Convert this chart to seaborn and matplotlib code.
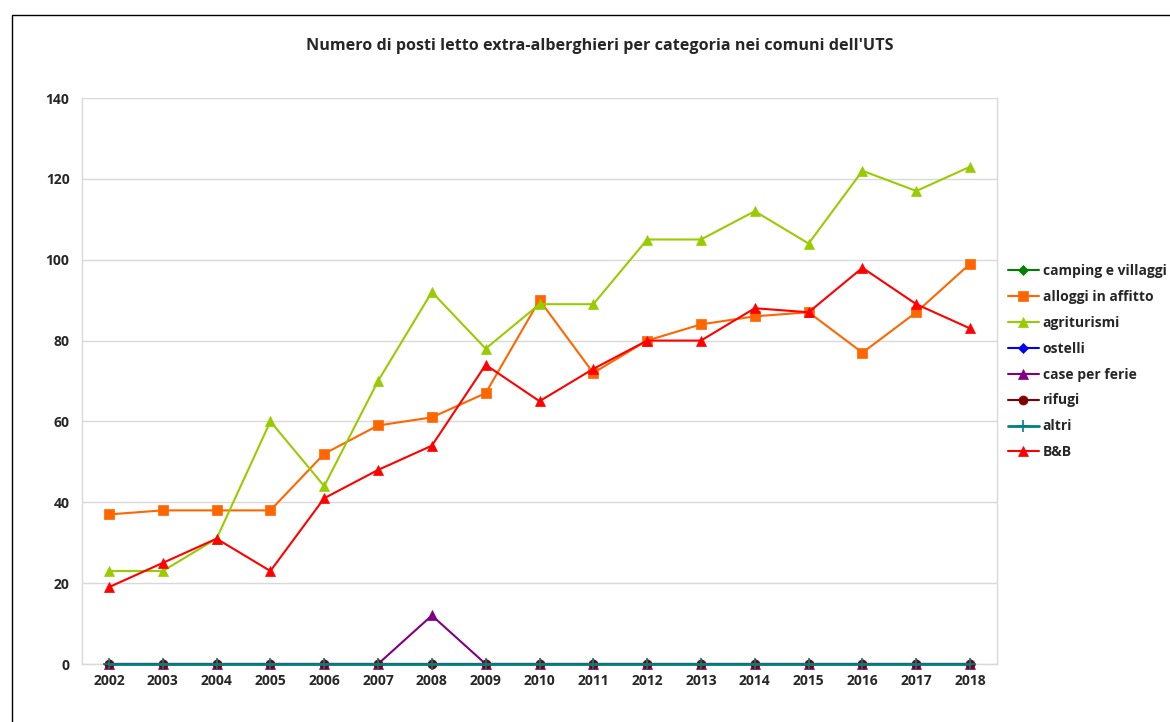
import matplotlib
matplotlib.use('Agg')
import matplotlib.pyplot as plt
from matplotlib.patches import Rectangle
import seaborn as sns
import pandas as pd

years = [str(y) for y in range(2002, 2019)]

camping = [0] * 17
alloggi = [37, 38, 38, 38, 52, 59, 61, 67, 90, 72, 80, 84, 86, 87, 77, 87, 99]
agriturismi = [23, 23, 31, 60, 44, 70, 92, 78, 89, 89, 105, 105, 112, 104, 122, 117, 123]
ostelli = [0] * 17
case_ferie = [0, 0, 0, 0, 0, 0, 12, 0, 0, 0, 0, 0, 0, 0, 0, 0, 0]
rifugi = [0] * 17
altri = [0] * 17
bb = [19, 25, 31, 23, 41, 48, 54, 74, 65, 73, 80, 80, 88, 87, 98, 89, 83]

series = {
    'camping e villaggi': camping,
    'alloggi in affitto': alloggi,
    'agriturismi': agriturismi,
    'ostelli': ostelli,
    'case per ferie': case_ferie,
    'rifugi': rifugi,
    'altri': altri,
    'B&B': bb,
}
colors = {
    'camping e villaggi': '#008000',
    'alloggi in affitto': '#FF6600',
    'agriturismi': '#99CC00',
    'ostelli': '#0000FF',
    'case per ferie': '#800080',
    'rifugi': '#800000',
    'altri': '#008080',
    'B&B': '#FF0000',
}
markers = {
    'camping e villaggi': 'D',
    'alloggi in affitto': 's',
    'agriturismi': '^',
    'ostelli': 'D',
    'case per ferie': '^',
    'rifugi': 'o',
    'altri': '+',
    'B&B': '^',
}
sizes = {'D': 5.5, 's': 6.5, '^': 7, 'o': 6.5, '+': 8}

sns.set_style('white')
plt.rcParams['font.family'] = ['Open Sans', 'DejaVu Sans']

fig = plt.figure(figsize=(11.7, 7.22), dpi=100)
ax = fig.add_axes([82 / 1170, 1 - 664 / 722, (997 - 82) / 1170, (664 - 98) / 722])

x = list(range(len(years)))
for name, vals in series.items():
    df = pd.DataFrame({'x': x, 'y': vals})
    m = markers[name]
    sns.lineplot(data=df, x='x', y='y', ax=ax, color=colors[name], marker=m,
                 markersize=sizes[m], markeredgecolor=colors[name],
                 markeredgewidth=1.2 if m == '+' else 0.5,
                 linewidth=2 if name == 'altri' else 1.5,
                 label=name, clip_on=False, zorder=3)

ax.set_xlim(-0.5, len(years) - 0.5)
ax.set_ylim(0, 140)
ax.set_yticks(range(0, 141, 20))
ax.set_xticks(x)
ax.set_xticklabels(years)
ax.set_xticks([i - 0.5 for i in range(len(years) + 1)], minor=True)
ax.set_xlabel('')
ax.set_ylabel('')
ax.grid(axis='y', color='#D9D9D9', linewidth=1)
ax.set_axisbelow(True)
for s in ['left', 'bottom', 'right']:
    ax.spines[s].set_color('#D9D9D9')
    ax.spines[s].set_linewidth(1)
ax.spines['top'].set_visible(False)
ax.tick_params(axis='x', which='major', length=0, pad=7)
ax.tick_params(axis='x', which='minor', length=4, color='#D9D9D9', direction='out')
ax.tick_params(axis='y', length=5, color='#D9D9D9', direction='out', pad=4)
for lab in ax.get_xticklabels() + ax.get_yticklabels():
    lab.set_fontweight('bold')
    lab.set_fontsize(10)

ax.legend(loc='upper left', bbox_to_anchor=(1.006, 0.717), frameon=False,
          prop={'weight': 'bold', 'size': 10}, handlelength=2.2,
          handletextpad=0.3, labelspacing=0.86, borderaxespad=0)

fig.text(0.513, 0.936, "Numero di posti letto extra-alberghieri per categoria nei comuni dell'UTS",
         ha='center', va='center', fontsize=11.6, fontweight='bold')

fig.patches.append(Rectangle((12 / 1170, -0.1), 1.2, 1.1 - 15 / 722,
                             transform=fig.transFigure, fill=False,
                             edgecolor='black', linewidth=1))

fig.savefig('out.png', dpi=100)
